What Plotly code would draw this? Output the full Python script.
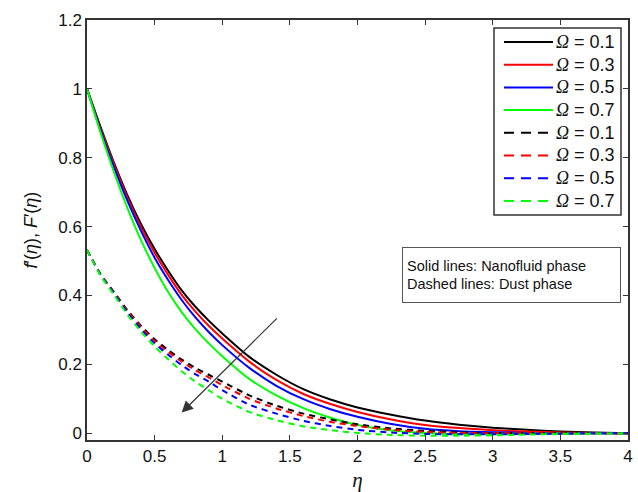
import plotly.graph_objects as go

# Similarity coordinate
eta = [0, 0.1, 0.2, 0.3, 0.4, 0.5, 0.6, 0.7, 0.8, 0.9, 1.0, 1.2, 1.4, 1.6,
       1.8, 2.0, 2.25, 2.5, 2.75, 3.0, 3.25, 3.5, 3.75, 4.0]

omega_labels = ["0.1", "0.3", "0.5", "0.7"]
colors = ["#000000", "#ff0000", "#0000ff", "#00ff00"]

# Nanofluid phase velocity f'(eta)
f_prime = [
    [1.0, 0.89, 0.785, 0.69, 0.607, 0.535, 0.472, 0.415, 0.368, 0.327, 0.29,
     0.222, 0.17, 0.128, 0.098, 0.075, 0.054, 0.037, 0.025, 0.016, 0.01,
     0.005, 0.002, 0.0],
    [1.0, 0.885, 0.78, 0.683, 0.598, 0.524, 0.46, 0.402, 0.354, 0.312, 0.275,
     0.208, 0.155, 0.114, 0.085, 0.062, 0.04, 0.024, 0.015, 0.009, 0.005,
     0.002, 0.001, 0.0],
    [1.0, 0.88, 0.772, 0.674, 0.587, 0.51, 0.445, 0.387, 0.337, 0.294, 0.256,
     0.19, 0.138, 0.099, 0.07, 0.048, 0.027, 0.013, 0.006, 0.003, 0.001,
     0.0, 0.0, 0.0],
    [1.0, 0.873, 0.758, 0.653, 0.56, 0.48, 0.41, 0.352, 0.303, 0.261, 0.224,
     0.158, 0.11, 0.073, 0.045, 0.024, 0.008, 0.001, -0.002, -0.002, -0.001,
     0.0, 0.0, 0.0],
]

# Dust phase velocity F'(eta)
F_prime = [
    [0.532, 0.462, 0.41, 0.357, 0.312, 0.273, 0.242, 0.214, 0.19, 0.17, 0.15,
     0.11, 0.08, 0.057, 0.04, 0.026, 0.014, 0.007, 0.003, 0.001, 0.0, 0.0,
     0.0, 0.0],
    [0.532, 0.461, 0.408, 0.354, 0.308, 0.268, 0.236, 0.208, 0.183, 0.162,
     0.14, 0.1, 0.072, 0.05, 0.033, 0.021, 0.01, 0.004, 0.001, 0.0, 0.0, 0.0,
     0.0, 0.0],
    [0.532, 0.46, 0.406, 0.35, 0.302, 0.261, 0.228, 0.198, 0.172, 0.15, 0.125,
     0.083, 0.057, 0.036, 0.021, 0.01, 0.002, -0.002, -0.003, -0.003, -0.002,
     -0.001, 0.0, 0.0],
    [0.532, 0.458, 0.402, 0.344, 0.295, 0.252, 0.215, 0.18, 0.15, 0.125, 0.1,
     0.062, 0.038, 0.02, 0.009, 0.001, -0.005, -0.007, -0.007, -0.006,
     -0.004, -0.002, -0.001, 0.0],
]

# Arrow showing the direction of increasing Omega
arrow_tail = (1.415, 0.338)
arrow_tip = (0.70, 0.06)

FONT = "Liberation Sans, Arial, Helvetica, sans-serif"
AXIS_COLOR = "#333333"
TEXT_COLOR = "#111111"
DASH = "6px,5px"

# Plot-area pixel geometry, used to place the hand-built legend
PLOT_L, PLOT_R, PLOT_T, PLOT_B = 87, 628, 20, 440


def px_to_paper(px, py):
    return ((px - PLOT_L) / (PLOT_R - PLOT_L),
            (PLOT_B - py) / (PLOT_B - PLOT_T))


def omega_name(v):
    return ('<span style="font-family:Liberation Serif"><i>\u03a9</i></span>'
            f" = {v}")


fig = go.Figure()

for lbl, col, ys in zip(omega_labels, colors, f_prime):
    fig.add_trace(go.Scatter(
        x=eta, y=ys, mode="lines", name=omega_name(lbl), showlegend=False,
        line=dict(color=col, width=2, shape="spline", smoothing=0.6),
    ))

for lbl, col, ys in zip(omega_labels, colors, F_prime):
    fig.add_trace(go.Scatter(
        x=eta, y=ys, mode="lines", name=omega_name(lbl), showlegend=False,
        line=dict(color=col, width=2, dash=DASH, shape="spline",
                  smoothing=0.6),
    ))

# Legend box: solid entries first, then dashed entries
entries = [(lbl, col, "solid") for lbl, col in zip(omega_labels, colors)]
entries += [(lbl, col, "10px,7px") for lbl, col in zip(omega_labels, colors)]

x0, y0 = px_to_paper(494, 28)
x1, y1 = px_to_paper(621, 215)
fig.add_shape(type="rect", xref="paper", yref="paper",
              x0=x0, y0=y1, x1=x1, y1=y0,
              line=dict(color="#333333", width=1.5), fillcolor="white",
              layer="above")

for i, (lbl, col, dash) in enumerate(entries):
    row_y = 42 + 22.7 * i
    lx0, ly = px_to_paper(504, row_y)
    lx1, _ = px_to_paper(553, row_y)
    fig.add_shape(type="line", xref="paper", yref="paper",
                  x0=lx0, y0=ly, x1=lx1, y1=ly,
                  line=dict(color=col, width=2, dash=dash), layer="above")
    tx, _ = px_to_paper(617, row_y)
    fig.add_annotation(x=tx, y=ly, xref="paper", yref="paper",
                       xanchor="right", yanchor="middle", showarrow=False,
                       text=omega_name(lbl),
                       font=dict(family=FONT, size=18, color=TEXT_COLOR))

fig.add_annotation(
    x=arrow_tip[0], y=arrow_tip[1], ax=arrow_tail[0], ay=arrow_tail[1],
    xref="x", yref="y", axref="x", ayref="y", text="", showarrow=True,
    arrowhead=2, arrowsize=1.9, arrowwidth=1.2, arrowcolor="#333333",
)

bx, by = px_to_paper(511.5, 275)
fig.add_annotation(
    x=bx, y=by, xref="paper", yref="paper",
    xanchor="center", yanchor="middle", showarrow=False, align="left",
    text="Solid lines: Nanofluid phase<br>Dashed lines: Dust phase",
    font=dict(family=FONT, size=14.5, color=TEXT_COLOR),
    bordercolor="#555555", borderwidth=1, borderpad=4,
    bgcolor="white", width=209, height=46,
)

axis_common = dict(
    showline=True, linecolor=AXIS_COLOR, linewidth=1.5, mirror="allticks",
    ticks="inside", ticklen=5, tickwidth=1, tickcolor=AXIS_COLOR,
    showgrid=False, zeroline=False, automargin=False,
    tickfont=dict(family=FONT, size=17, color=TEXT_COLOR),
)

fig.update_xaxes(
    range=[0, 4], tickvals=[0, 0.5, 1, 1.5, 2, 2.5, 3, 3.5, 4],
    title=dict(text="<i>\u03b7</i>", standoff=7,
               font=dict(family="Liberation Serif", size=21, color=TEXT_COLOR)),
    **axis_common,
)
fig.update_yaxes(
    range=[-0.0195, 1.2], tickvals=[0, 0.2, 0.4, 0.6, 0.8, 1, 1.2],
    title=dict(text="<i>f</i>\u2032(<i>\u03b7</i>), <i>F</i>\u2032(<i>\u03b7</i>)",
               standoff=16,
               font=dict(family=FONT, size=18, color=TEXT_COLOR)),
    **axis_common,
)

fig.update_layout(
    width=638, height=492,
    margin=dict(l=PLOT_L, r=638 - PLOT_R, t=PLOT_T, b=492 - PLOT_B),
    plot_bgcolor="white", paper_bgcolor="white",
    showlegend=False,
)

fig.write_html("out.html")
